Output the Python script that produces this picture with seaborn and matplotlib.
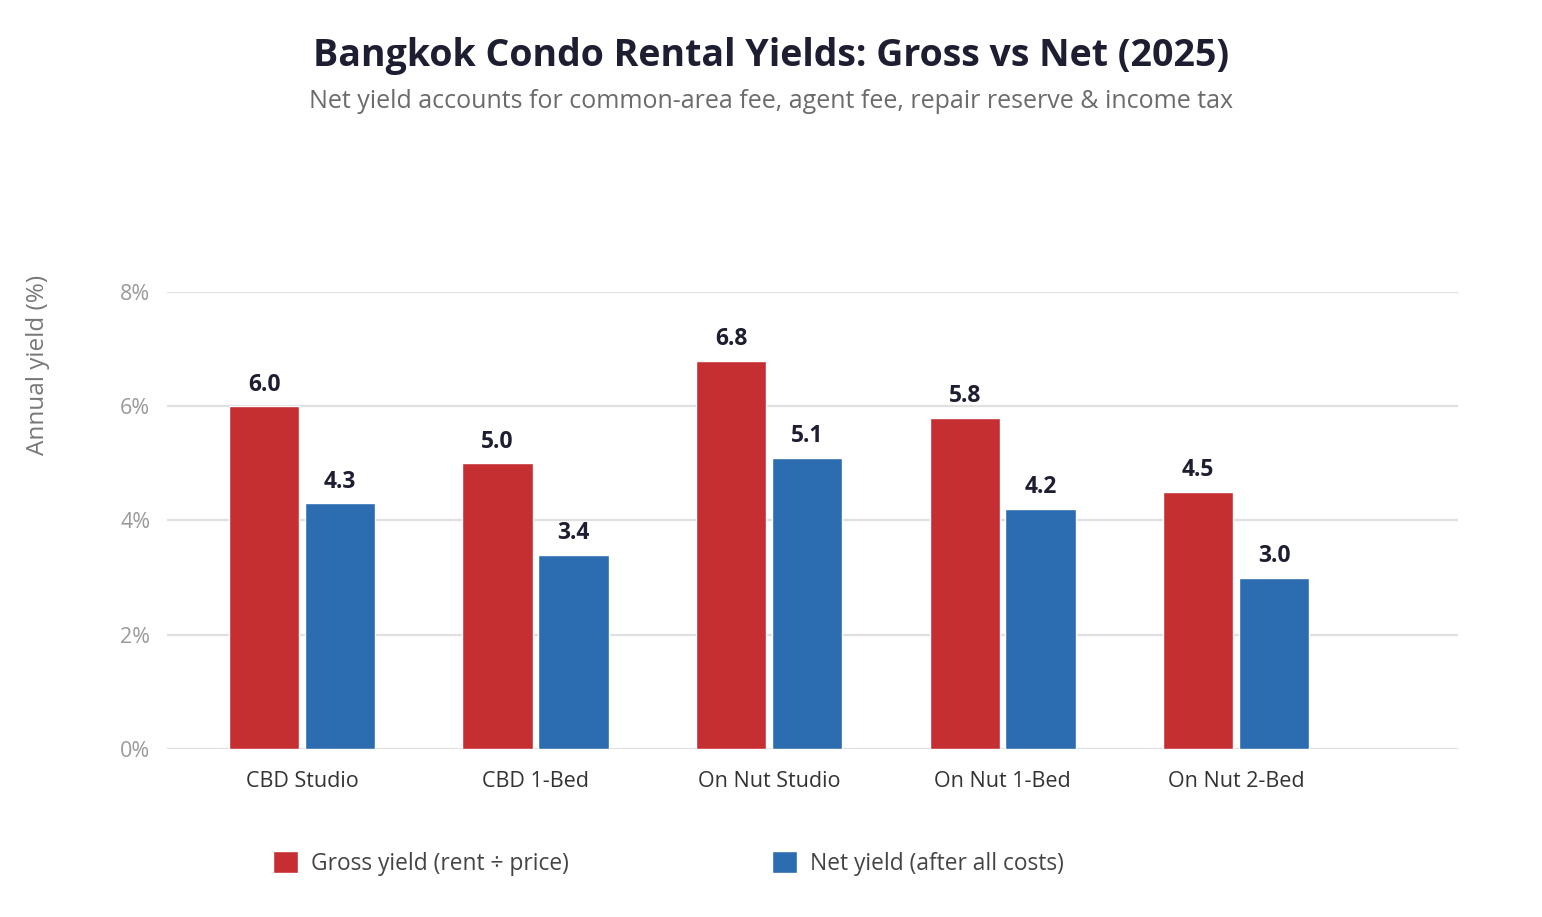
import matplotlib
matplotlib.use("Agg")
import matplotlib.pyplot as plt
import seaborn as sns
import pandas as pd
from matplotlib.ticker import FuncFormatter

categories = ["CBD Studio", "CBD 1-Bed", "On Nut Studio", "On Nut 1-Bed", "On Nut 2-Bed"]
gross = [6.0, 5.0, 6.8, 5.8, 4.5]
net = [4.3, 3.4, 5.1, 4.2, 3.0]
series_names = ["Gross yield (rent ÷ price)", "Net yield (after all costs)"]
y_ticks = [0, 2, 4, 6, 8]

sns.set_theme(style="white")
plt.rcParams['font.family'] = ['Open Sans', 'DejaVu Sans']

df = pd.DataFrame({
    "category": categories * 2,
    "value": gross + net,
    "series": [series_names[0]] * len(categories) + [series_names[1]] * len(categories),
})

fig = plt.figure(figsize=(15.42, 9.17), dpi=100)
ax = fig.add_axes([0.1083, 0.1832, 0.9455 - 0.1083, 0.6816 - 0.1832])

palette = {series_names[0]: "#c62f32", series_names[1]: "#2c6cb0"}
sns.barplot(data=df, x="category", y="value", hue="series", hue_order=series_names,
            order=categories, palette=palette, width=0.65, gap=0.075,
            saturation=1, ax=ax, legend=True, zorder=3)

ax.set_ylim(0, 8)
ax.set_xlim(-0.578, 4.95)
ax.set_yticks(y_ticks)
ax.yaxis.set_major_formatter(FuncFormatter(lambda v, p: f"{v:.0f}%"))
ax.grid(axis="y", color="#e0e0e0", linewidth=1.6, zorder=0)
ax.set_axisbelow(True)
for s in ax.spines.values():
    s.set_visible(False)
ax.tick_params(axis="y", colors="#9a9a9a", labelsize=15.5, length=0, pad=12)
ax.tick_params(axis="x", colors="#333333", labelsize=15.5, length=0, pad=16)
for lbl in ax.get_yticklabels():
    lbl.set_color("#9a9a9a")
for lbl in ax.get_xticklabels():
    lbl.set_color("#333333")
ax.set_xlabel("")
ax.set_ylabel("Annual yield (%)", fontsize=17.5, color="#777777", labelpad=0)
ax.yaxis.set_label_coords(-0.0905, 0.84)

for container in ax.containers:
    ax.bar_label(container, fmt="%.1f", padding=7, fontsize=16.5, fontweight="bold",
                 color="#1e1e32")

handles, labels = ax.get_legend_handles_labels()
ax.get_legend().remove()
fig.legend(handles, labels, loc="center", bbox_to_anchor=(0.4335, 0.058), ncol=2,
           frameon=False, fontsize=16.4, handlelength=1.1, handleheight=1.1,
           handletextpad=0.57, columnspacing=8.9, labelcolor="#444444")

fig.text(0.5, 1 - 56 / 917, "Bangkok Condo Rental Yields: Gross vs Net (2025)",
         ha="center", va="center", fontsize=27, fontweight="bold", color="#1e1e32")
fig.text(0.5, 1 - 101 / 917, "Net yield accounts for common-area fee, agent fee, repair reserve & income tax",
         ha="center", va="center", fontsize=18, color="#6b6b6b")

fig.savefig("out.png", dpi=100)
